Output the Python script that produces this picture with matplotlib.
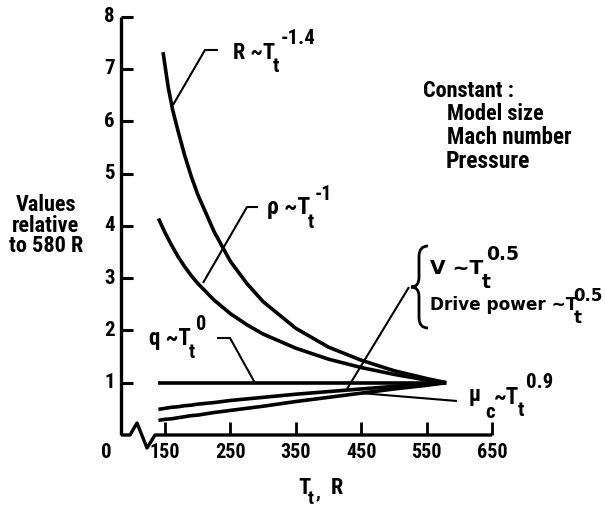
import numpy as np
import matplotlib
matplotlib.use("Agg")
import matplotlib.pyplot as plt
from matplotlib import font_manager
from matplotlib.path import Path
from matplotlib.patches import PathPatch

# values (relative to 580 R)
t_r = [147, 155, 162, 170, 180, 190, 200, 225, 250, 275, 300, 350, 400, 450, 500, 550, 580]
r_vals = [7.32, 6.64, 6.20, 5.81, 5.35, 4.95, 4.60, 3.89, 3.32, 2.90, 2.55, 2.04, 1.68, 1.43, 1.23, 1.08, 1.00]

t_lo = [140, 150, 160, 170, 180, 190, 200, 225, 250, 275, 300, 350, 400, 450, 500, 550, 580]
rho_vals = [4.14, 3.87, 3.63, 3.41, 3.22, 3.05, 2.90, 2.58, 2.32, 2.11, 1.93, 1.66, 1.45, 1.29, 1.16, 1.05, 1.00]
q_vals = [1.0] * len(t_lo)
v_vals = [0.49, 0.51, 0.53, 0.54, 0.56, 0.57, 0.59, 0.62, 0.66, 0.69, 0.72, 0.78, 0.83, 0.88, 0.93, 0.97, 1.00]
mu_vals = [0.28, 0.30, 0.31, 0.33, 0.35, 0.37, 0.38, 0.43, 0.47, 0.51, 0.55, 0.64, 0.72, 0.80, 0.88, 0.95, 1.00]

x_ticks = [150, 250, 350, 450, 550, 650]
y_ticks = [1, 2, 3, 4, 5, 6, 7, 8]

W, H = 605, 508


def has_bold(name):
    for f in font_manager.fontManager.ttflist:
        w = f.weight if isinstance(f.weight, int) else font_manager.weight_dict.get(f.weight, 400)
        if f.name == name and w >= 600:
            return True
    return False


FONT = "DejaVu Sans"
for cand in ["Liberation Sans Narrow", "Roboto Condensed", "Liberation Sans", "Roboto",
             "Lato", "Noto Sans", "Open Sans"]:
    if has_bold(cand):
        FONT = cand
        break
WIDE = "DejaVu Sans"   # the typed labels on the right are wider

fig = plt.figure(figsize=(W / 100, H / 100), dpi=100)
ax = fig.add_axes([0, 0, 1, 1])
# pixel mapping: 150 R -> x=165 px, 0.654 px per R ; value 0 -> y=435 px, 52.3 px per unit
ax.set_xlim(150 - 165 / 0.654, 150 + (W - 165) / 0.654)
ax.set_ylim(-(H - 435) / 52.3, 435 / 52.3)
ax.axis("off")
renderer = fig.canvas.get_renderer()


def px(x, y):
    return (150 + (x - 165) / 0.654, (435 - y) / 52.3)


def ptext(x, y, s, size, ha="left", va="center", fam=None):
    return fig.text(x / W, 1 - y / H, s, fontsize=size, ha=ha, va=va,
                    family=fam or FONT, weight="bold")


def power_label(x, y, main, sub, sup, size=16, ssize=14.5, sub_dy=14, sup_dy=-14,
                sub_dx=-2, sup_dx=5, fam=None):
    t = ptext(x, y, main, size, fam=fam)
    right = t.get_window_extent(renderer).x1
    ptext(right + sub_dx, y + sub_dy, sub, ssize, fam=fam)
    ptext(right + sup_dx, y + sup_dy, sup, ssize, fam=fam)


k = dict(color="black", solid_capstyle="butt", solid_joinstyle="round")

# axes with the break
x0 = px(121, 0)[0]
ax.plot([x0, x0], [0, 8], lw=2.4, **k)
zig = [px(121, 435), px(130, 435), px(137, 423), px(147, 448), px(155, 435), px(492, 435)]
ax.plot([p[0] for p in zig], [p[1] for p in zig], lw=2.4, **k)
for yt in y_ticks:
    ax.plot([x0, x0 + 12 / 0.654], [yt, yt], lw=2.2, **k)
    ax.text(x0 - 6 / 0.654, yt, str(yt), ha="right", va="center", fontsize=15,
            family=FONT, weight="bold")
for xt in x_ticks:
    ax.plot([xt, xt], [0, 0.25], lw=2.0, **k)
    ax.text(xt, -17 / 52.3, str(xt), ha="center", va="center", fontsize=14.5,
            family=FONT, weight="bold")
ptext(106, 452, "0", 15, ha="center")

# curves
ax.plot(t_r, r_vals, lw=2.6, **k)
ax.plot(t_lo, rho_vals, lw=2.6, **k)
ax.plot(t_lo, q_vals, lw=2.6, **k)
ax.plot(t_lo, v_vals, lw=2.6, **k)
ax.plot(t_lo, mu_vals, lw=2.6, **k)

# leader lines
leaders = [
    [(173, 105), (205, 50), (218, 50)],
    [(203, 283), (247, 207), (258, 207)],
    [(217, 338), (230, 338), (255, 383)],
    [(347, 389), (409, 287)],
    [(360, 393), (457, 401)],
]
for ld in leaders:
    pts = [px(*p) for p in ld]
    ax.plot([p[0] for p in pts], [p[1] for p in pts], lw=1.5, **k)

# brace
bx_tip, bx_mid, bx_end = px(411, 0)[0], px(419, 0)[0], px(428, 0)[0]
by_top, by_tip, by_bot = px(0, 246)[1], px(0, 287)[1], px(0, 328)[1]
verts = [
    (bx_end, by_top), (bx_mid, by_top), (bx_mid, by_top - 0.2),
    (bx_mid, by_tip + 0.18),
    (bx_mid, by_tip), (bx_tip, by_tip),
    (bx_mid, by_tip), (bx_mid, by_tip - 0.18),
    (bx_mid, by_bot + 0.2),
    (bx_mid, by_bot), (bx_end, by_bot),
]
codes = [Path.MOVETO, Path.CURVE3, Path.CURVE3, Path.LINETO, Path.CURVE3, Path.CURVE3,
         Path.CURVE3, Path.CURVE3, Path.LINETO, Path.CURVE3, Path.CURVE3]
ax.add_patch(PathPatch(Path(verts, codes), fill=False, lw=2.0, color="black"))

# curve labels
power_label(233, 53, "R ~T", "t", "-1.4", size=16, ssize=15, sup_dx=6)
power_label(267, 208, "ρ ~T", "t", "-1", size=17)
power_label(149, 339, "q ~T", "t", "0", size=16.5)
power_label(430, 268, "V ~T", "t", "0.5", size=14.5, ssize=13.5, sub_dy=14, sup_dy=-13,
            sup_dx=3, fam=WIDE)
power_label(430, 305, "Drive power ~T", "t", "0.5", size=12.2, ssize=12, sub_dy=13,
            sup_dy=-9, sub_dx=-4, sup_dx=-4, fam=WIDE)
t_mu = ptext(469, 395, "μ", 16)
ptext(t_mu.get_window_extent(renderer).x1 + 4, 413, "c", 15)
power_label(494, 398, "~T", "t", "0.9", size=16.5, ssize=15, sub_dy=13, sup_dy=-16, sup_dx=7)

# notes
ptext(423, 91, "Constant :", 16)
ptext(447, 114, "Model size", 16)
ptext(447, 138, "Mach number", 16.5)
ptext(446, 162, "Pressure", 17)

ptext(46, 205, "Values", 16, ha="center")
ptext(46, 226, "relative", 16, ha="center")
ptext(46, 246, "to 580 R", 16, ha="center")

ptext(298, 488, "T", 16)
ptext(308, 499, "t", 14)
ptext(316, 492, ",", 14)
ptext(331, 488, "R", 16)

fig.savefig("out.png", dpi=100)
